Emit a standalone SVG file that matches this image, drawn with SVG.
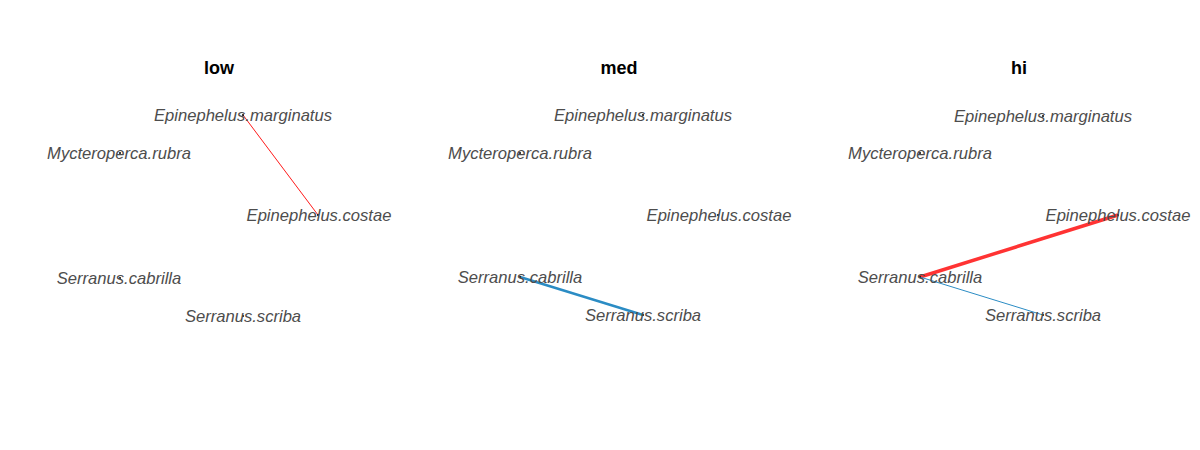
<svg xmlns="http://www.w3.org/2000/svg" width="1200" height="450" viewBox="0 0 1200 450">
<style>
.t{font-family:"Liberation Sans",Arial,sans-serif;font-weight:bold;font-size:18px;fill:#000;text-anchor:middle}
.n text{font-family:"Liberation Sans",Arial,sans-serif;font-style:italic;font-size:16.6px;fill:#4d4d4d;text-anchor:middle}
.n circle{fill:#000}
.red{stroke:#ff3333;fill:none}
.blue{stroke:#2b8cc4;fill:none}
</style>
<rect width="1200" height="450" fill="#fff"/>
<text class="t" x="219" y="74">low</text>
<text class="t" x="619" y="74">med</text>
<text class="t" x="1019" y="74">hi</text>
<g id="connectors">
<line class="red" x1="243" y1="115" x2="318" y2="215" stroke-width="1" style="stroke:#ff1a1a"/>
<line class="blue" x1="520" y1="277" x2="643" y2="315" stroke-width="2.5"/>
<line class="red" x1="920" y1="277" x2="1118" y2="215" stroke-width="3.5"/>
<line class="blue" x1="920" y1="277" x2="1043" y2="315" stroke-width="1"/>
</g>
<g id="low-marginatus" class="n"><circle cx="243" cy="115" r="1"/><text x="243" y="121">Epinephelus.marginatus</text></g>
<g id="low-rubra" class="n"><circle cx="120" cy="153" r="1"/><text x="119" y="159">Mycteroperca.rubra</text></g>
<g id="low-costae" class="n"><circle cx="318" cy="215" r="1"/><text x="319" y="221">Epinephelus.costae</text></g>
<g id="low-cabrilla" class="n"><circle cx="120" cy="278" r="1"/><text x="119" y="284">Serranus.cabrilla</text></g>
<g id="low-scriba" class="n"><circle cx="243" cy="316" r="1"/><text x="243" y="322">Serranus.scriba</text></g>
<g id="med-marginatus" class="n"><circle cx="643" cy="115" r="1"/><text x="643" y="121">Epinephelus.marginatus</text></g>
<g id="med-rubra" class="n"><circle cx="520" cy="153" r="1"/><text x="520" y="159">Mycteroperca.rubra</text></g>
<g id="med-costae" class="n"><circle cx="718" cy="215" r="1"/><text x="719" y="221">Epinephelus.costae</text></g>
<g id="med-cabrilla" class="n"><circle cx="520" cy="277" r="1"/><text x="520" y="283">Serranus.cabrilla</text></g>
<g id="med-scriba" class="n"><circle cx="643" cy="315" r="1"/><text x="643" y="321">Serranus.scriba</text></g>
<g id="hi-marginatus" class="n"><circle cx="1043" cy="116" r="1"/><text x="1043" y="122">Epinephelus.marginatus</text></g>
<g id="hi-rubra" class="n"><circle cx="920" cy="153" r="1"/><text x="920" y="159">Mycteroperca.rubra</text></g>
<g id="hi-costae" class="n"><circle cx="1118" cy="215" r="1"/><text x="1118" y="221">Epinephelus.costae</text></g>
<g id="hi-cabrilla" class="n"><circle cx="920" cy="277" r="1"/><text x="920" y="283">Serranus.cabrilla</text></g>
<g id="hi-scriba" class="n"><circle cx="1043" cy="315" r="1"/><text x="1043" y="321">Serranus.scriba</text></g>
</svg>
